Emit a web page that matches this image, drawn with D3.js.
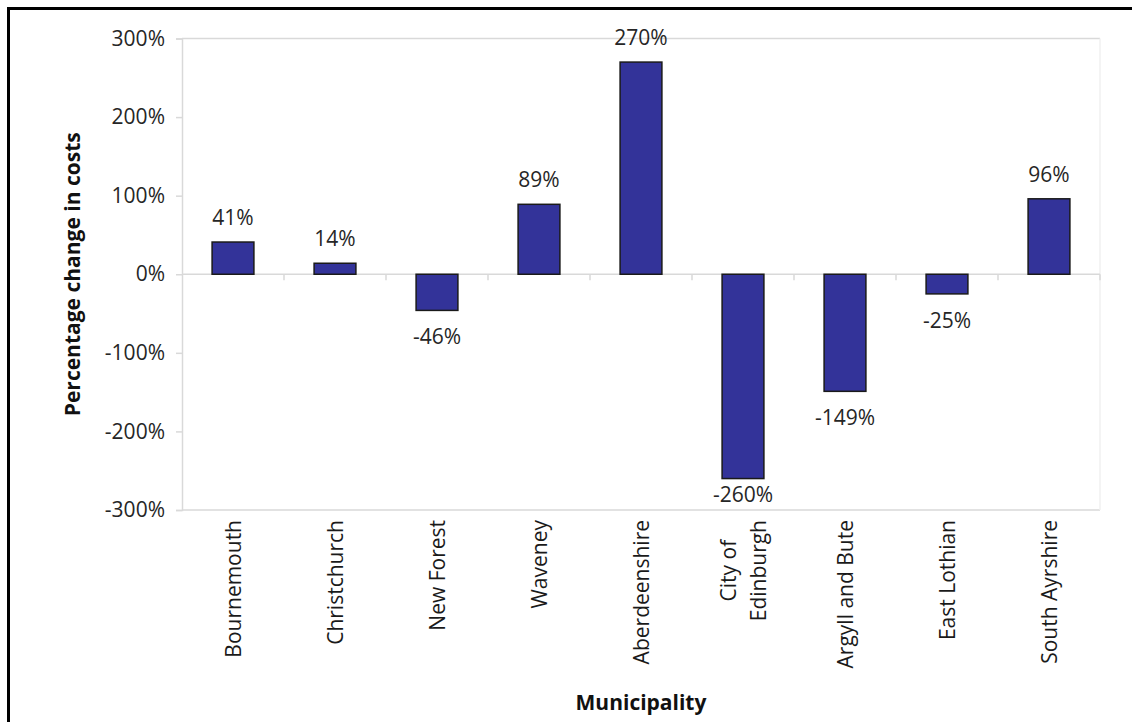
<!DOCTYPE html>
<html>
<head>
<meta charset="utf-8">
<script src="https://cdn.jsdelivr.net/npm/d3@7"></script>
<style>
  html, body { margin: 0; padding: 0; background: #fff; }
  svg { display: block; }
</style>
</head>
<body>
<svg id="chart" width="1132" height="722"></svg>
<script>
const categories = ["Bournemouth", "Christchurch", "New Forest", "Waveney", "Aberdeenshire", "City of\nEdinburgh", "Argyll and Bute", "East Lothian", "South Ayrshire"];
const values = [41, 14, -46, 89, 270, -260, -149, -25, 96];
const yTicks = [-300, -200, -100, 0, 100, 200, 300];
const yTitle = "Percentage change in costs";
const xTitle = "Municipality";

const svg = d3.select("#chart");
const W = 1132, H = 722;
const margin = { left: 182, right: 32, top: 38.5, bottom: 212 };
const font = "'Open Sans', 'Noto Sans', sans-serif";
const fs = 21;

// outer frame
svg.append("rect").attr("x", 8.5).attr("y", 8.5).attr("width", W + 20).attr("height", H + 20)
  .attr("fill", "#fff").attr("stroke", "#000").attr("stroke-width", 3);

const x = d3.scaleBand().domain(categories).range([margin.left, W - margin.right]).paddingInner(0.59).paddingOuter(0.295);
const xb = d3.scaleBand().domain(categories).range([margin.left, W - margin.right]);
const y = d3.scaleLinear().domain([-300, 300]).range([H - margin.bottom, margin.top]);

const grid = "#d9d9d9";
// plot border lines
svg.append("line").attr("x1", margin.left).attr("x2", W - margin.right).attr("y1", y(300)).attr("y2", y(300)).attr("stroke", grid).attr("stroke-width", 1.5);
svg.append("line").attr("x1", margin.left).attr("x2", W - margin.right).attr("y1", y(-300)).attr("y2", y(-300)).attr("stroke", grid).attr("stroke-width", 1.5);
svg.append("line").attr("x1", W - margin.right).attr("x2", W - margin.right).attr("y1", y(300)).attr("y2", y(-300)).attr("stroke", "#f0f0f0").attr("stroke-width", 1.5);

// y axis
const yAxis = d3.axisLeft(y).tickValues(yTicks).tickFormat(d => d + "%").tickSize(6).tickPadding(11);
const gy = svg.append("g").attr("transform", `translate(${margin.left},0)`).call(yAxis);
gy.select(".domain").attr("stroke", grid).attr("stroke-width", 1.5);
gy.selectAll(".tick line").attr("stroke", grid).attr("stroke-width", 1.5);
gy.selectAll(".tick text").attr("font-family", font).attr("font-size", fs).attr("fill", "#262626");

// zero line with category ticks
svg.append("line").attr("x1", margin.left).attr("x2", W - margin.right).attr("y1", y(0)).attr("y2", y(0)).attr("stroke", grid).attr("stroke-width", 1.5);
svg.selectAll(".ctick").data(categories).enter().append("line")
  .attr("x1", d => xb(d) + xb.bandwidth())
  .attr("x2", d => xb(d) + xb.bandwidth())
  .attr("y1", y(0)).attr("y2", y(0) + 6).attr("stroke", grid).attr("stroke-width", 1.5);

// bars
svg.selectAll(".bar").data(values).enter().append("rect")
  .attr("x", (d, i) => x(categories[i]))
  .attr("width", x.bandwidth())
  .attr("y", d => y(Math.max(0, d)))
  .attr("height", d => Math.abs(y(d) - y(0)))
  .attr("fill", "#333399").attr("stroke", "#1a1a1a").attr("stroke-width", 1.5);

// data labels (kept inside plot area)
svg.selectAll(".lbl").data(values).enter().append("text")
  .attr("x", (d, i) => x(categories[i]) + x.bandwidth() / 2)
  .attr("y", d => d >= 0 ? Math.max(y(d) - 17, y(300) + 6) : Math.min(y(d) + 34, y(-300) - 8))
  .attr("text-anchor", "middle").attr("font-family", font).attr("font-size", fs).attr("fill", "#262626")
  .text(d => d + "%");

// category labels (rotated)
const topY = y(-300) + 10;
categories.forEach((c) => {
  const lines = c.split("\n");
  const cx = xb(c) + xb.bandwidth() / 2;
  const lh = 30;
  const g = svg.append("g");
  const texts = lines.map((ln, k) => {
    const off = (k - (lines.length - 1) / 2) * lh;
    return g.append("text").attr("font-family", font).attr("font-size", fs).attr("fill", "#1a1a1a")
      .attr("text-anchor", "middle").attr("dominant-baseline", "central")
      .text(ln).datum(off);
  });
  const maxLen = d3.max(texts, t => t.node().getComputedTextLength());
  texts.forEach(t => {
    const off = t.datum();
    const cy = topY + maxLen / 2;
    t.attr("transform", `translate(${cx + off},${cy}) rotate(-90)`);
  });
});

// axis titles
svg.append("text").attr("x", 641).attr("y", 710).attr("text-anchor", "middle")
  .attr("font-family", font).attr("font-weight", "bold").attr("font-size", fs).attr("fill", "#111").text(xTitle);
svg.append("text").attr("transform", `translate(80,${(y(300) + y(-300)) / 2}) rotate(-90)`).attr("text-anchor", "middle")
  .attr("font-family", font).attr("font-weight", "bold").attr("font-size", fs).attr("fill", "#111").text(yTitle);
</script>
</body>
</html>
